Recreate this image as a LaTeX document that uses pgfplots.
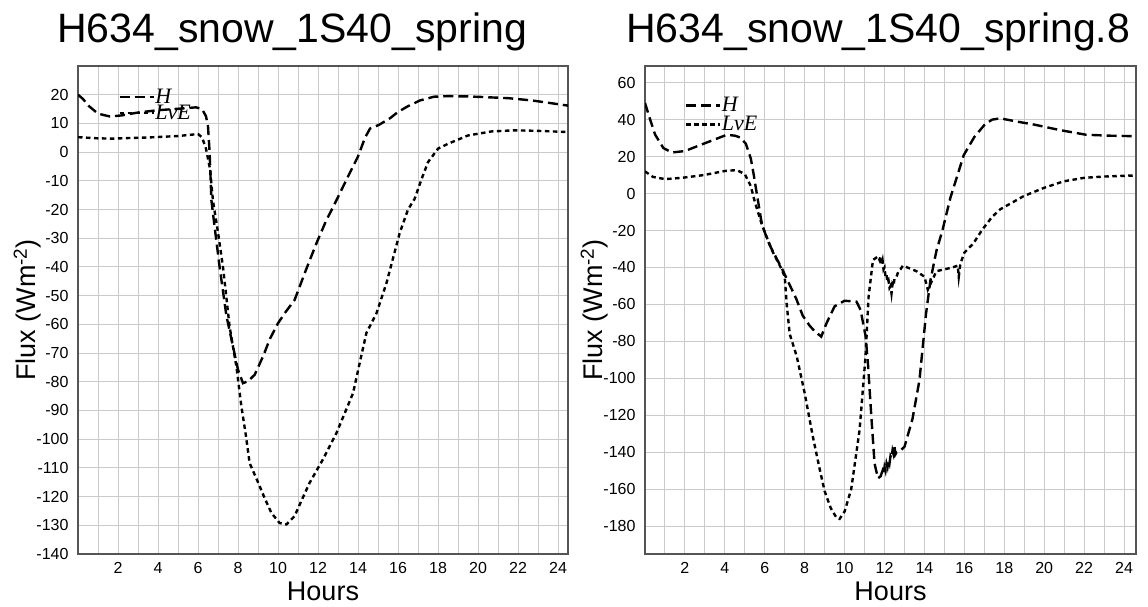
\documentclass[border=0pt]{standalone}
\usepackage{fontspec}
\setmainfont{Liberation Sans}
\newfontfamily\lgfont{Liberation Serif}
\usepackage{pgfplots}
\pgfplotsset{compat=1.18}
\definecolor{gridc}{HTML}{CACACA}
\definecolor{framec}{HTML}{555555}
\pgfplotsset{
  fluxstyle/.style={
    scale only axis,
    axis line style={framec, line width=1.6pt},
    grid=both,
    major grid style={gridc, line width=1pt},
    minor grid style={gridc, line width=1pt},
    major tick length=0pt, minor tick length=0pt,
    xmin=0,
    xtick={2,4,...,24},
    minor xtick={1,3,...,23},
    /pgf/number format/assume math mode=true,
    tick label style={font=\fontsize{16}{16}\selectfont},
    xticklabel style={yshift=-5pt},
    yticklabel style={xshift=-6pt},
    xlabel={Hours},
    ylabel={Flux (Wm\textsuperscript{-2})},
    label style={font=\fontsize{27}{27}\selectfont},
    title style={font=\fontsize{41}{41}\selectfont, yshift=5pt},
    xlabel style={yshift=-1pt},
    ylabel style={yshift=-12pt},
    legend style={draw=none, fill=none, inner sep=0pt,
      font=\lgfont\itshape\fontsize{22}{22}\selectfont, legend cell align=left,
      nodes={inner sep=0.5pt}},
    legend image code/.code={\draw[#1] (0pt,0pt) -- (34pt,0pt);},
    Hs/.style={black, line width=2.4pt, dash pattern=on 10pt off 5pt},
    Ls/.style={black, line width=2.4pt, dash pattern=on 4.5pt off 3.5pt},
  }
}
\begin{document}
\begin{tikzpicture}
\useasboundingbox (0pt,0pt) rectangle (1148pt,606pt);
\begin{axis}[fluxstyle,
  at={(78pt,52pt)}, anchor=south west,
  width=490pt, height=488pt,
  xmax=24.5, ymin=-140, ymax=30,
  ytick={-140,-130,...,20},
  title={H634\_snow\_1S40\_spring},
  title style={at={(rel axis cs:0.437,1)}},
  legend style={at={(rel axis cs:0.082,0.954)}, anchor=north west, row sep=-1pt},
]
\addplot[Hs] coordinates {
(0,20) (0.25,18.5) (0.55,16) (1.0,13.4) (1.6,12.4) (2.2,12.8) (3.0,13.8) (4.0,14.6) (5.0,15.1) (5.9,15.6) (6.2,15) (6.4,12.5) (6.5,9) (6.58,0) (6.67,-16.8) (6.83,-26) (7.08,-40) (7.42,-57) (7.75,-67.7) (8.0,-75.8) (8.25,-80.5) (8.5,-79.8) (8.83,-77.6) (9.25,-71.2) (9.6,-65) (10,-59.6) (10.4,-55.5) (10.83,-51.5) (11.4,-41) (11.92,-31.8) (12.4,-24) (12.92,-16.8) (13.5,-8.5) (14.0,-1.5) (14.35,5) (14.6,8.2) (15.05,9.5) (15.6,11.8) (16.0,14) (16.5,16) (17.1,18) (17.8,19.3) (18.5,19.5) (19.5,19.4) (20.2,19.2) (21.5,18.8) (22.7,18) (23.5,17.2) (24.5,16.2)
};
\addlegendentry{H}
\addplot[Ls] coordinates {
(0,5.2) (1.0,4.8) (1.7,4.7) (2.5,4.9) (3.5,5.1) (5.0,5.6) (6.0,6.3) (6.2,5.2) (6.4,1.2) (6.6,-5.8) (6.75,-17) (7.0,-28) (7.25,-40) (7.58,-60.8) (7.92,-74.7) (8.17,-88.6) (8.4,-99) (8.58,-108.3) (9.0,-115) (9.3,-120) (9.67,-125.7) (10.08,-129.2) (10.42,-129.7) (10.83,-126.8) (11.2,-121) (11.58,-115.2) (12.25,-107) (12.92,-97.9) (13.75,-84) (14.1,-73) (14.42,-63) (14.92,-56.2) (15.42,-45.7) (16.08,-28.3) (16.5,-20) (16.83,-16.3) (17.2,-9) (17.5,-3.5) (18.0,1.2) (18.5,2.9) (19.5,5.8) (20.67,7.2) (21.83,7.6) (23,7.4) (24.5,7.0)
};
\addlegendentry{LvE}
\end{axis}
\begin{axis}[fluxstyle,
  at={(645pt,52pt)}, anchor=south west,
  width=491pt, height=488pt,
  xmax=24.6, ymin=-195, ymax=69,
  ytick={-180,-160,...,60},
  title={H634\_snow\_1S40\_spring.8},
  title style={at={(rel axis cs:0.475,1)}},
  legend style={at={(rel axis cs:0.081,0.937)}, anchor=north west, row sep=2pt},
]
\addplot[Hs] coordinates {
(0,49) (0.2,42) (0.5,32) (0.92,24.6) (1.35,22.2) (2.0,23) (2.95,27) (3.67,30) (4.1,31.8) (4.5,31.3) (4.76,30.4) (5.05,27) (5.3,19) (5.45,10) (5.6,0) (5.83,-15) (6.0,-21) (6.25,-28) (6.9,-41.5) (7.58,-57) (7.9,-66) (8.25,-71.5) (8.5,-74.5) (8.83,-77.4) (9.1,-70) (9.5,-61) (10,-58) (10.6,-58.5) (10.8,-63) (11.05,-77) (11.17,-92) (11.33,-119) (11.5,-146) (11.67,-154) (11.8,-153) (11.9,-150) (11.95,-152) (12.0,-148) (12.05,-150) (12.1,-146) (12.15,-148) (12.2,-144) (12.25,-146) (12.3,-142) (12.35,-143) (12.4,-139) (12.45,-141) (12.5,-137) (12.55,-141) (12.6,-140) (12.8,-139) (13.0,-137) (13.4,-122) (13.75,-101) (14.08,-65) (14.3,-47) (14.6,-31) (14.9,-20) (15.3,-2.3) (15.97,20.8) (16.5,30.6) (17.05,37.7) (17.4,40) (17.8,40.7) (18.6,39) (19.5,37.3) (20.8,34.3) (22.1,31.8) (23.3,31.3) (24.6,31)
};
\addlegendentry{H}
\addplot[Ls] coordinates {
(0,12) (0.4,9) (1.0,7.8) (1.85,8.5) (2.95,10) (4.0,12.2) (4.6,12.7) (5.0,10.5) (5.3,4) (5.5,-4.4) (5.83,-16) (6.0,-21) (6.4,-31.6) (6.83,-40.6) (7.0,-45) (7.1,-60) (7.25,-76) (7.6,-88) (8.0,-108) (8.4,-131) (8.75,-149) (9.0,-161) (9.3,-170) (9.6,-175.5) (9.75,-176) (10.0,-172) (10.33,-160) (10.75,-128) (11.05,-88) (11.2,-56) (11.42,-36) (11.67,-34) (11.75,-36) (11.8,-34) (11.85,-38) (11.9,-36) (11.95,-41) (12.0,-40) (12.05,-45) (12.1,-44) (12.15,-48) (12.2,-47) (12.25,-51) (12.3,-50) (12.35,-54) (12.4,-49) (12.45,-50) (12.5,-46) (12.6,-45) (12.7,-42) (12.8,-41) (12.92,-39) (13.6,-42) (14.0,-45) (14.17,-52) (14.3,-49) (14.6,-42) (15.4,-40) (15.67,-39) (15.72,-45) (15.8,-38) (16.0,-32) (16.45,-27) (16.9,-19.5) (17.4,-12.5) (17.8,-8.5) (18.97,-1.4) (19.97,3) (20.97,6.6) (22,8.5) (23,9.2) (24.6,9.8)
};
\addlegendentry{LvE}
\end{axis}
\end{tikzpicture}
\end{document}
